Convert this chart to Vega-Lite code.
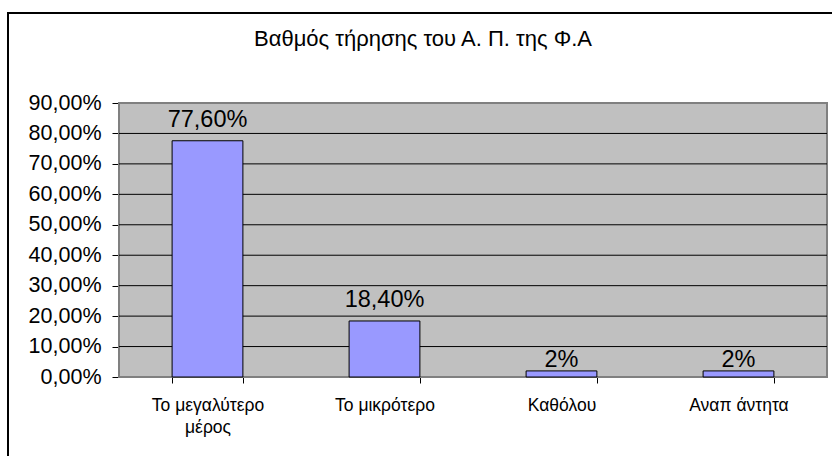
{
  "$schema": "https://vega.github.io/schema/vega-lite/v6.json",
  "width": 830,
  "height": 450,
  "autosize": {"type": "none"},
  "padding": {"left": 8, "top": 13, "right": 0, "bottom": 0},
  "background": "white",
  "config": {
    "view": {"stroke": "#000000", "strokeWidth": 2, "fill": "white"},
    "font": "Liberation Sans"
  },
  "title": {
    "text": "Βαθμός τήρησης του Α. Π. της Φ.Α",
    "font": "Liberation Sans",
    "fontSize": 22,
    "fontWeight": "normal",
    "color": "#000000",
    "anchor": "middle",
    "offset": -38
  },
  "datasets": {
    "answers": [
      {"category": "Το μεγαλύτερο μέρος", "value": 0.776, "label": "77,60%"},
      {"category": "Το μικρότερο", "value": 0.184, "label": "18,40%"},
      {"category": "Καθόλου", "value": 0.02, "label": "2%"},
      {"category": "Αναπ άντητα", "value": 0.02, "label": "2%"}
    ],
    "grid": [{"v": 0.1}, {"v": 0.2}, {"v": 0.3}, {"v": 0.4}, {"v": 0.5}, {"v": 0.6}, {"v": 0.7}, {"v": 0.8}],
    "plot": [{"x0": 0, "x1": 1, "y0": 0, "y1": 0.9}]
  },
  "layer": [
    {
      "data": {"name": "plot"},
      "mark": {"type": "rect", "fill": "#C0C0C0", "stroke": "#808080", "strokeWidth": 2},
      "encoding": {
        "x": {"field": "x0", "type": "quantitative", "scale": {"domain": [0, 1], "range": [111, 819], "nice": false, "zero": false}, "axis": null},
        "x2": {"field": "x1"},
        "y": {"field": "y0", "type": "quantitative", "scale": {"domain": [0, 0.9], "range": [364, 90], "nice": false}, "axis": null},
        "y2": {"field": "y1"}
      }
    },
    {
      "data": {"name": "grid"},
      "mark": {"type": "rule", "color": "#000000", "strokeWidth": 1},
      "encoding": {
        "x": {"datum": 0, "type": "quantitative", "scale": {"domain": [0, 1], "range": [111, 819], "nice": false, "zero": false}, "axis": null},
        "x2": {"datum": 1},
        "y": {"field": "v", "type": "quantitative", "scale": {"domain": [0, 0.9], "range": [364, 90], "nice": false}, "axis": null}
      }
    },
    {
      "data": {"name": "answers"},
      "encoding": {
        "x": {
          "field": "category",
          "type": "nominal",
          "sort": null,
          "scale": {"range": [111, 819], "paddingInner": 0.6, "paddingOuter": 0.3},
          "axis": {
            "title": null,
            "orient": "bottom",
            "offset": -86,
            "domainColor": "#000000",
            "domainWidth": 1,
            "tickColor": "#000000",
            "tickSize": 6,
            "tickBand": "extent",
            "labelAngle": 0,
            "labelFont": "Liberation Sans",
            "labelFontSize": 17.5,
            "labelColor": "#000000",
            "labelPadding": 13,
            "labelLineHeight": 22,
            "labelBaseline": "top",
            "labelExpr": "datum.label == 'Το μεγαλύτερο μέρος' ? ['Το μεγαλύτερο', 'μέρος'] : datum.label"
          }
        },
        "y": {
          "field": "value",
          "type": "quantitative",
          "scale": {"domain": [0, 0.9], "range": [364, 90], "nice": false},
          "axis": {
            "title": null,
            "orient": "left",
            "offset": -111,
            "values": [0, 0.1, 0.2, 0.3, 0.4, 0.5, 0.6, 0.7, 0.8, 0.9],
            "grid": false,
            "domainColor": "#000000",
            "domainWidth": 1,
            "tickColor": "#000000",
            "tickSize": 7,
            "labelFont": "Liberation Sans",
            "labelFontSize": 21.5,
            "labelColor": "#000000",
            "labelPadding": 11,
            "labelFlush": false,
            "labelOverlap": false,
            "labelExpr": "replace(format(datum.value, '.2%'), '.', ',')"
          }
        }
      },
      "layer": [
        {"mark": {"type": "bar", "fill": "#9999FF", "stroke": "#000000", "strokeWidth": 1}},
        {
          "transform": [{"filter": "datum.value >= 0.05"}],
          "mark": {"type": "text", "baseline": "alphabetic", "dy": -14, "fontSize": 23.5, "font": "Liberation Sans", "color": "#000000"},
          "encoding": {"text": {"field": "label"}}
        },
        {
          "transform": [{"filter": "datum.value < 0.05"}],
          "mark": {"type": "text", "baseline": "alphabetic", "dy": -4, "fontSize": 23.5, "font": "Liberation Sans", "color": "#000000"},
          "encoding": {"text": {"field": "label"}}
        }
      ]
    }
  ],
  "resolve": {"scale": {"x": "independent", "y": "independent"}, "axis": {"x": "independent", "y": "independent"}}
}
